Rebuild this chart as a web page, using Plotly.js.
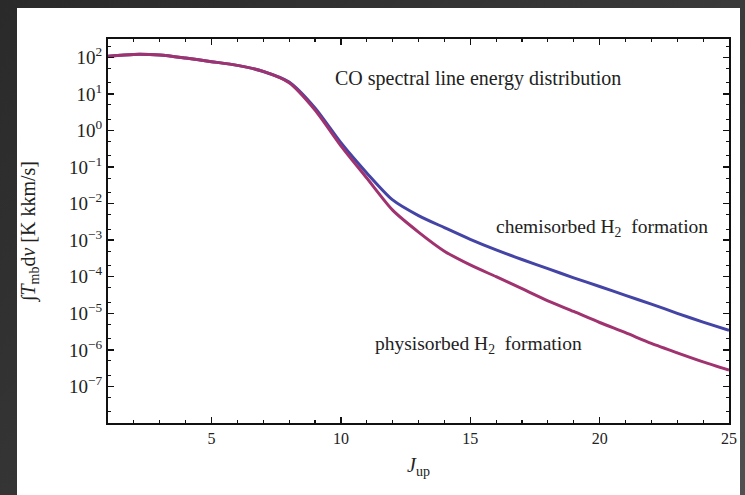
<!DOCTYPE html>
<html>
<head>
<meta charset="utf-8">
<script src="https://cdn.plot.ly/plotly-3.0.1.min.js"></script>
<style>
html,body{margin:0;padding:0;width:745px;height:495px;overflow:hidden;
background:linear-gradient(135deg,#2a2a2a 0%,#3a3a3a 60%,#505050 100%);}
#panel{position:absolute;left:17px;top:8px;width:723px;height:487px;background:#fff;}
#chart{width:723px;height:487px;}
</style>
</head>
<body>
<div id="panel"><div id="chart"></div></div>
<script>
// J_up levels
const jUp = [1,2,3,4,5,6,7,8,9,10,11,12,13,14,15,16,17,18,19,20,21,22,23,24,25];
// integrated intensity, chemisorbed H2 formation (K km/s)
const chemisorbed = [107,120,115,95,76,60,41,21,4.1,0.46,0.069,0.0126,4.7e-3,2.2e-3,1.05e-3,5.4e-4,2.95e-4,1.66e-4,9.3e-5,5.4e-5,3.1e-5,1.78e-5,1.0e-5,5.75e-6,3.4e-6];
// integrated intensity, physisorbed H2 formation (K km/s)
const physisorbed = [107,120,115,95,76,60,41,20,3.6,0.38,0.05,6.6e-3,1.66e-3,5.0e-4,2.1e-4,1.0e-4,4.7e-5,2.2e-5,1.12e-5,5.6e-6,2.95e-6,1.5e-6,8.3e-7,4.7e-7,2.8e-7];
// tick labels
const xTickVals = [5,10,15,20,25];
const yTickVals = [1e2,1e1,1e0,1e-1,1e-2,1e-3,1e-4,1e-5,1e-6,1e-7];
const yTickText = ['10<sup>2</sup>','10<sup>1</sup>','10<sup>0</sup>','10<sup>\u22121</sup>','10<sup>\u22122</sup>','10<sup>\u22123</sup>','10<sup>\u22124</sup>','10<sup>\u22125</sup>','10<sup>\u22126</sup>','10<sup>\u22127</sup>'];

const serif = 'Liberation Serif, Times New Roman, serif';
const traces = [
  {x: jUp, y: chemisorbed, mode:'lines', line:{color:'#4444a6', width:3, shape:'spline', smoothing:0.7}, name:'chemisorbed'},
  {x: jUp, y: physisorbed, mode:'lines', line:{color:'#a0336f', width:3, shape:'spline', smoothing:0.7}, name:'physisorbed'}
];
const layout = {
  width:723, height:487,
  margin:{l:91, r:11, t:31, b:72},
  paper_bgcolor:'#ffffff', plot_bgcolor:'#ffffff',
  showlegend:false,
  font:{family:serif, size:15, color:'#222'},
  xaxis:{
    range:[1,25], tickvals:xTickVals, ticks:'inside', ticklen:6, tickwidth:1.5, tickcolor:'#111',
    showline:true, linecolor:'#111', linewidth:2, mirror:'allticks', showgrid:false, zeroline:false,
    minor:{dtick:1, ticks:'inside', ticklen:3, tickcolor:'#111', tickwidth:1.2, showgrid:false},
    tickfont:{family:serif, size:16, color:'#222'},
    title:{text:'<i>J</i><sub>up</sub>', font:{family:serif, size:20, color:'#222'}, standoff:12}
  },
  yaxis:{
    type:'log', range:[-8,2.5], tickvals:yTickVals, ticktext:yTickText,
    ticks:'inside', ticklen:6, tickwidth:1.5, tickcolor:'#111',
    showline:true, linecolor:'#111', linewidth:2, mirror:'allticks', showgrid:false, zeroline:false,
    minor:{ticks:'inside', ticklen:3, tickcolor:'#111', tickwidth:1, showgrid:false},
    tickfont:{family:serif, size:19, color:'#222'},
    title:{text:'\u222B<i>T</i><sub>mb</sub>d<i>v</i> [K kkm/s]', font:{family:serif, size:20, color:'#222'}, standoff:28}
  },
  annotations:[
    {x:15.3, y:1.43, xref:'x', yref:'y', text:'CO spectral line energy distribution', showarrow:false, font:{family:serif, size:20, color:'#222'}},
    {x:20.1, y:-2.67, xref:'x', yref:'y', text:'chemisorbed H<sub>2</sub>  formation', showarrow:false, font:{family:serif, size:19.5, color:'#222'}},
    {x:15.3, y:-5.87, xref:'x', yref:'y', text:'physisorbed H<sub>2</sub>  formation', showarrow:false, font:{family:serif, size:19.5, color:'#222'}}
  ]
};
Plotly.newPlot('chart', traces, layout, {displayModeBar:false, staticPlot:true});
</script>
</body>
</html>
